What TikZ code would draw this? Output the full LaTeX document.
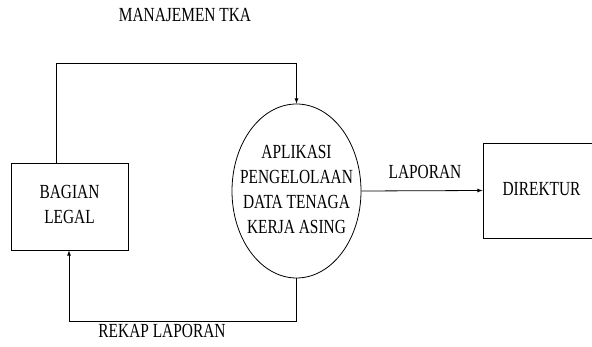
\documentclass[tikz,border=0pt]{standalone}
\usepackage{fontspec}
\setmainfont{Liberation Serif}
\usetikzlibrary{shapes.geometric, arrows}

\newcommand{\sempit}[1]{\scalebox{0.77}[1]{\begin{tabular}{@{}c@{}}#1\end{tabular}}}

\tikzset{
    entitas/.style={draw, line width=0.8pt, minimum width=117pt, align=center},
    proses/.style={draw, ellipse, line width=0.8pt, minimum width=129pt, minimum height=174pt},
    alir/.style={->, line width=0.8pt}
}

\begin{document}
\begin{tikzpicture}[x=1pt, y=-1pt, >=latex, font=\fontsize{20}{25}\selectfont]
    \useasboundingbox (0,0) rectangle (592,347);
    % entitas luar
    \node[entitas, minimum height=87pt] (legal) at (69.5,206.5) {\sempit{BAGIAN\\LEGAL}};
    \node[entitas, minimum height=95pt] (direktur) at (541.5,190.5) {\sempit{DIREKTUR}};
    % proses
    \node[proses] (aplikasi) at (296.5,191) {};
    \node (aplikasiteks) at (aplikasi.center) {\sempit{APLIKASI\\PENGELOLAAN\\DATA TENAGA\\KERJA ASING}};
    % aliran data
    \coordinate (tkaatas) at (56,63);
    \coordinate (rekapbawah) at (69,321);
    \draw[alir] (tkaatas |- legal.north) -- (tkaatas) -| (aplikasi.north);
    \draw[alir] (aplikasi.south) |- (rekapbawah) -- (rekapbawah |- legal.south);
    \draw[alir] (aplikasi.east) -- (direktur.west);
    \node (tka) at (185,17) {\sempit{MANAJEMEN TKA}};
    \node (rekap) at (162,333) {\sempit{REKAP LAPORAN}};
    \node (laporan) at (425,174) {\sempit{LAPORAN}};
\end{tikzpicture}
\end{document}
